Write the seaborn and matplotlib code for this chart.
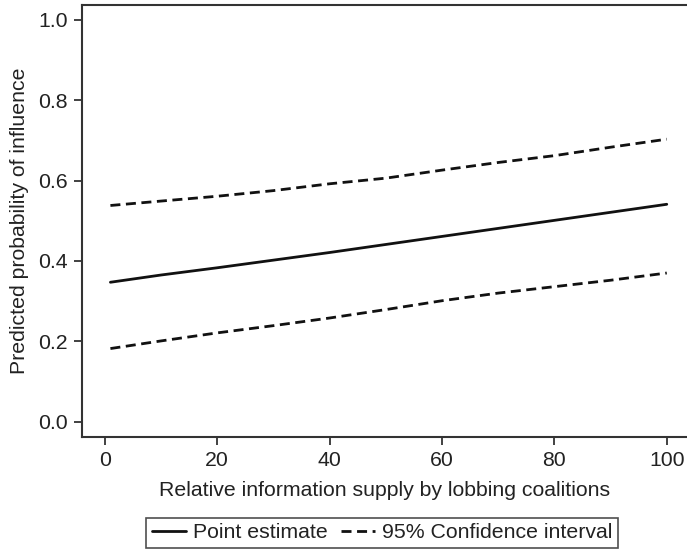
import matplotlib
matplotlib.use("Agg")
import matplotlib.pyplot as plt
import seaborn as sns
import pandas as pd

# values
supply = [1, 10, 20, 30, 40, 50, 60, 70, 80, 90, 100]
point_est = [0.347, 0.365, 0.383, 0.402, 0.421, 0.441, 0.461, 0.481, 0.501, 0.521, 0.541]
ci_upper = [0.538, 0.549, 0.561, 0.575, 0.592, 0.606, 0.626, 0.645, 0.662, 0.683, 0.703]
ci_lower = [0.182, 0.201, 0.221, 0.239, 0.258, 0.279, 0.301, 0.320, 0.336, 0.352, 0.370]

sns.set_theme(style="ticks")
plt.rcParams['font.family'] = ['Liberation Sans', 'DejaVu Sans']
fs = 15.3
dash = (3.6, 2.0)

fig = plt.figure(figsize=(6.87, 5.5), dpi=100)
ax = fig.add_axes([0.119, 0.2055, 0.881, 0.7855])

df = pd.DataFrame({"x": supply, "pe": point_est, "up": ci_upper, "lo": ci_lower})
sns.lineplot(data=df, x="x", y="pe", ax=ax, color="#111111", lw=2, label="Point estimate")
sns.lineplot(data=df, x="x", y="up", ax=ax, color="#111111", lw=2, label="95% Confidence interval")
sns.lineplot(data=df, x="x", y="lo", ax=ax, color="#111111", lw=2)
ax.lines[1].set_dashes(dash)
ax.lines[2].set_dashes(dash)

ax.set_xlim(-4.1, 103.6)
ax.set_ylim(-0.038, 1.037)
ax.set_xticks([0, 20, 40, 60, 80, 100])
ax.set_yticks([0.0, 0.2, 0.4, 0.6, 0.8, 1.0])
ax.set_yticklabels(["0.0", "0.2", "0.4", "0.6", "0.8", "1.0"])
ax.tick_params(labelsize=fs, length=6, width=1.3, color="#333333", labelcolor="#222222", pad=4)

ax.set_xlabel("Relative information supply by lobbing coalitions", fontsize=fs, color="#222222", labelpad=8)
ax.set_ylabel("Predicted probability of influence", fontsize=fs, color="#222222", labelpad=7)

for side in ["left", "bottom", "top"]:
    ax.spines[side].set_visible(True)
    ax.spines[side].set_linewidth(1.5)
    ax.spines[side].set_color("#333333")
ax.spines["right"].set_visible(False)

leg = ax.legend(loc="center", bbox_to_anchor=(0.556, 0.031), bbox_transform=fig.transFigure,
                ncol=2, fontsize=fs, frameon=True, fancybox=False, handlelength=1.6,
                columnspacing=0.6, handletextpad=0.35, borderpad=0.25, borderaxespad=0)
leg.get_frame().set_edgecolor("#222222")
leg.get_frame().set_linewidth(1.2)
for t in leg.get_texts():
    t.set_color("#222222")

fig.savefig("out.png", dpi=100)
